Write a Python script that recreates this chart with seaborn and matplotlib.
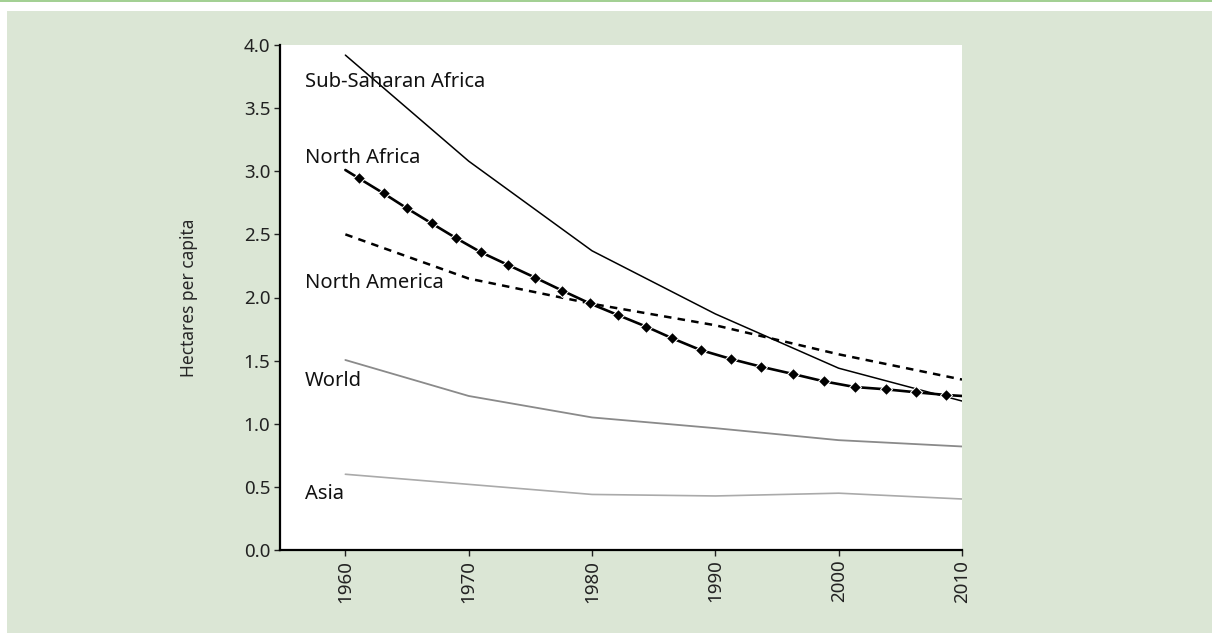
import numpy as np
import pandas as pd
import matplotlib.pyplot as plt
import matplotlib.patches as mpatches
import seaborn as sns

sns.set_style("white")
plt.rcParams['font.family'] = ['Noto Sans', 'DejaVu Sans']

decades = [1960, 1970, 1980, 1990, 2000, 2010]
ssa = [3.92, 3.08, 2.37, 1.87, 1.44, 1.18]
north_america = [2.50, 2.15, 1.95, 1.78, 1.55, 1.35]
world = [1.505, 1.22, 1.05, 0.965, 0.87, 0.82]
asia = [0.60, 0.52, 0.44, 0.428, 0.45, 0.404]

na_years = [1960, 1961.1, 1963.1, 1965.0, 1967.0, 1969.0, 1971.0, 1973.2, 1975.4,
            1977.6, 1979.8, 1982.1, 1984.4, 1986.5, 1988.8, 1991.3, 1993.7,
            1996.3, 1998.8, 2001.3, 2003.8, 2006.3, 2008.7, 2010]
north_africa = [3.01, 2.944, 2.825, 2.706, 2.587, 2.469, 2.358, 2.257, 2.157,
                2.054, 1.954, 1.861, 1.769, 1.677, 1.584, 1.512, 1.452,
                1.394, 1.336, 1.291, 1.273, 1.249, 1.228, 1.22]

labels = ["Sub-Saharan Africa", "North Africa", "North America", "World", "Asia"]
label_y = [3.71, 3.105, 2.115, 1.34, 0.445]

df = pd.DataFrame({"year": decades, "ssa": ssa, "na": north_america,
                   "world": world, "asia": asia})
df_naf = pd.DataFrame({"year": na_years, "value": north_africa})

fig = plt.figure(figsize=(12.12, 6.33), dpi=100)
fig.patch.set_facecolor("white")
fig.patches.append(mpatches.Rectangle((7 / 1212, 0), 1, 1 - 11 / 633,
                                      transform=fig.transFigure,
                                      facecolor="#dbe6d5", edgecolor="none", zorder=-10))
fig.patches.append(mpatches.Rectangle((0, 1 - 2 / 633), 1, 2 / 633,
                                      transform=fig.transFigure,
                                      facecolor="#a3d094", edgecolor="none", zorder=-10))

ax = fig.add_axes([280 / 1212, 1 - 550 / 633, 682 / 1212, 505 / 633])
ax.set_zorder(1)
ax.set_facecolor("white")

sns.lineplot(data=df, x="year", y="asia", color="#aaaaaa", lw=1.2, ax=ax)
sns.lineplot(data=df, x="year", y="world", color="#8a8a8a", lw=1.3, ax=ax)
sns.lineplot(data=df, x="year", y="ssa", color="black", lw=1.1, ax=ax)
sns.lineplot(data=df, x="year", y="na", color="black", lw=1.8, ax=ax,
             linestyle=(0, (3, 2.5)))
sns.lineplot(data=df_naf, x="year", y="value", color="black", lw=1.9, ax=ax,
             marker="D", markersize=6, markevery=list(range(1, len(na_years) - 1)))

for name, y in zip(labels, label_y):
    ax.text(1956.7, y, name, fontsize=14.5, va="center", ha="left", color="#111111")

ax.set_xlim(1954.7, 2010)
ax.set_ylim(0, 4.0)
ax.set_xticks(decades)
ax.set_xticklabels([str(d) for d in decades], rotation=90)
ax.set_yticks(np.arange(0, 4.01, 0.5))
ax.set_yticklabels([f"{v:.1f}" for v in np.arange(0, 4.01, 0.5)])
ax.tick_params(axis="both", direction="out", length=4, width=1, colors="#222222",
               labelsize=13.5, left=True, bottom=True, pad=3)
ax.set_xlabel("")
ax.set_ylabel("Hectares per capita", fontsize=12.5, labelpad=33)
for s in ["top", "right"]:
    ax.spines[s].set_visible(False)
for s in ["left", "bottom"]:
    ax.spines[s].set_color("black")
    ax.spines[s].set_linewidth(1.6)

plt.savefig("out.png", dpi=100, facecolor=fig.get_facecolor())
